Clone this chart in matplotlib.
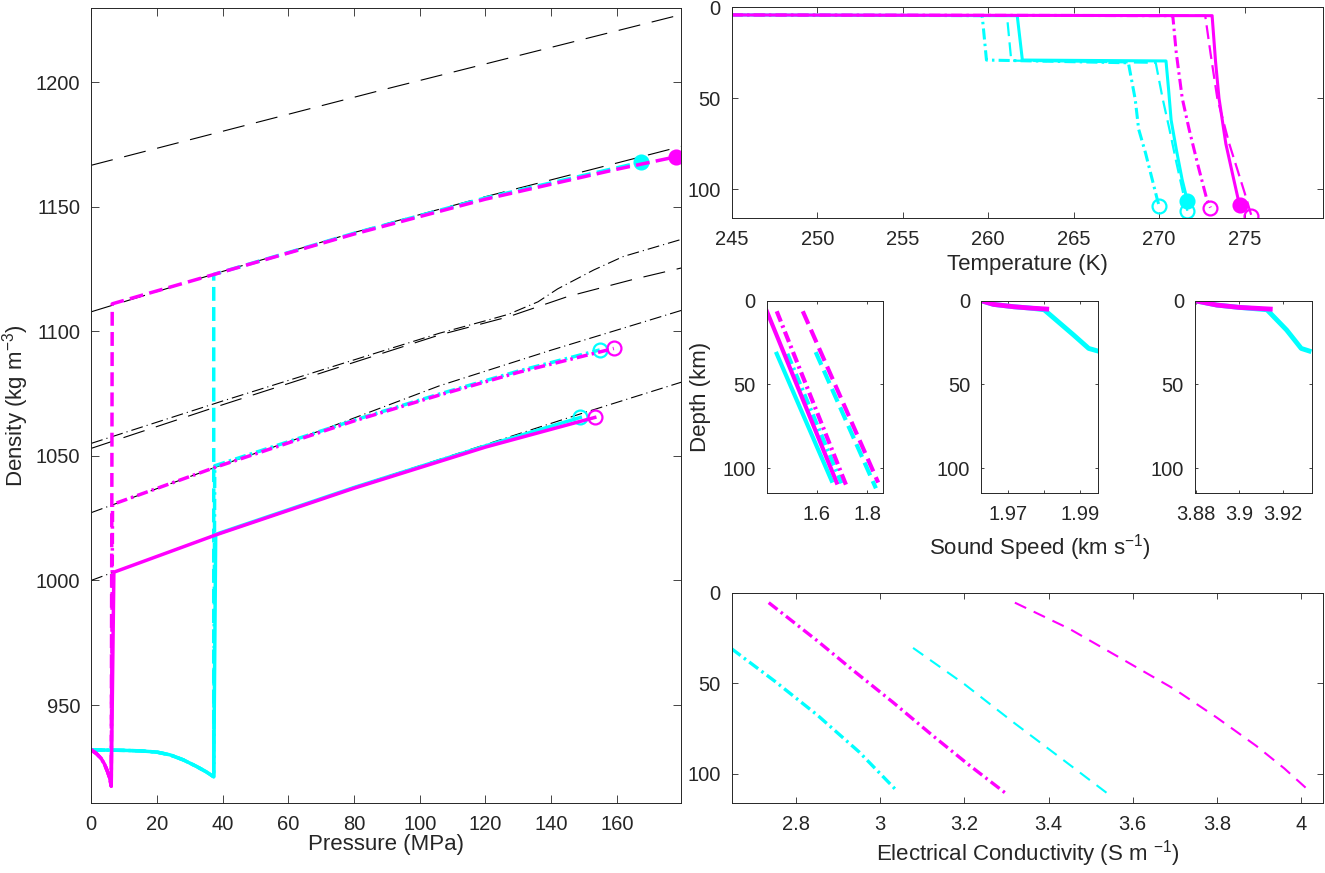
import numpy as np
import matplotlib
matplotlib.use("Agg")
import matplotlib.pyplot as plt

plt.rcParams['font.family'] = ['Liberation Sans', 'DejaVu Sans']
plt.rcParams['mathtext.fontset'] = 'custom'
plt.rcParams['mathtext.rm'] = 'Liberation Sans'
plt.rcParams['mathtext.it'] = 'Liberation Sans:italic'
plt.rcParams['lines.scale_dashes'] = False

# ---------------- density vs pressure ----------------
# black reference curves
blk_a_p = [0, 90, 180]
blk_a_rho = [1166.6, 1197.3, 1227.2]
blk_b_p = [0, 40, 80, 120, 160, 180]
blk_b_rho = [1107.8, 1124.0, 1139.6, 1154.0, 1167.5, 1174.3]
blk_c_p = [0, 40, 80, 106, 127, 145, 165, 180]
blk_c_rho = [1053.0, 1070.5, 1087.5, 1098.5, 1105.8, 1113.9, 1120.8, 1125.5]
blk_d_p = [0, 40, 80, 106, 120, 127, 136, 142, 153, 162, 180]
blk_d_rho = [1055.0, 1072.0, 1088.5, 1099.2, 1104.2, 1106.8, 1111.8, 1117.0, 1124.6, 1130.0, 1137.0]
blk_e_p = [0, 38, 70, 106, 140, 180]
blk_e_rho = [1027.2, 1045.5, 1060.2, 1078.1, 1092.4, 1108.5]
blk_f_p = [0, 38, 80, 120, 150, 180]
blk_f_rho = [1000.0, 1018.5, 1037.5, 1054.5, 1067.3, 1079.7]

# ice shells
ice_m_p = [0, 1.6, 3.0, 4.0, 5.0, 5.6, 6.1]
ice_m_rho = [932.0, 930.5, 928.6, 926.4, 923.2, 920.8, 917.4]
ice_c_p = [0, 10, 15, 20, 24, 28, 32, 35, 37.3]
ice_c_rho = [932.0, 931.8, 931.6, 931.1, 930.0, 928.0, 925.4, 923.2, 921.2]

# oceans
m_solid_p = [6.9, 38, 80, 120, 153.3]
m_solid_rho = [1003.3, 1018.3, 1037.0, 1053.5, 1065.4]
m_dashdot_p = [6.5, 38, 80, 106, 130, 159.1]
m_dashdot_rho = [1030.5, 1045.5, 1064.0, 1074.4, 1083.5, 1093.1]
m_dashed_p = [6.4, 40, 80, 120, 160, 178]
m_dashed_rho = [1111.0, 1123.8, 1139.0, 1153.0, 1165.0, 1170.0]
c_solid_p = [37.9, 80, 120, 148.9]
c_solid_rho = [1018.5, 1037.3, 1054.0, 1065.4]
c_dashdot_p = [37.6, 80, 106, 130, 154.8]
c_dashdot_rho = [1046.0, 1064.3, 1074.8, 1084.0, 1092.5]
c_dashed_p = [37.3, 80, 120, 167.3]
c_dashed_rho = [1122.8, 1139.3, 1153.5, 1167.8]

# ---------------- temperature vs depth ----------------
tm_solid_T = [245, 260, 273.1, 273.1, 273.3, 273.5, 273.9, 274.3, 274.7]
tm_solid_z = [4.2, 4.4, 4.6, 5.0, 30, 50, 75, 92, 108.8]
tm_dashed_T = [245, 260, 272.7, 272.7, 273.0, 273.4, 274.1, 275.0, 275.4]
tm_dashed_z = [4.2, 4.4, 4.6, 5.0, 25, 50, 75, 102, 114.7]
tm_dashdot_T = [245, 260, 270.8, 270.8, 271.0, 271.35, 271.75, 272.3, 272.8, 273.0]
tm_dashdot_z = [4.2, 4.4, 4.6, 5.0, 25, 50, 67, 88, 106, 110.1]
tc_solid_T = [245, 261.7, 262.0, 270.4, 270.55, 270.7, 271.0, 271.35, 271.65]
tc_solid_z = [4.2, 4.6, 29.0, 29.5, 45, 62, 78, 95, 106.4]
tc_dashed_T = [245, 261.1, 261.35, 269.8, 270.2, 270.6, 271.0, 271.4, 271.65]
tc_dashed_z = [4.2, 4.6, 29.3, 30.5, 50, 67, 85, 102, 111.9]
tc_dashdot_T = [245, 259.65, 259.9, 268.2, 268.6, 268.8, 269.2, 269.9, 270.0]
tc_dashdot_z = [4.2, 4.6, 29.0, 30.5, 50.6, 67, 80, 106, 109.2]

# ---------------- sound speeds ----------------
vo_m_solid = [1.403, 1.679]
vo_m_solid_z = [6.3, 108.6]
vo_m_dashdot = [1.442, 1.716]
vo_m_dashdot_z = [6.3, 110.0]
vo_m_dashed = [1.545, 1.843]
vo_m_dashed_z = [6.3, 108.6]
vo_c_solid = [1.442, 1.659]
vo_c_solid_z = [31.7, 107.5]
vo_c_dashdot = [1.484, 1.698]
vo_c_dashdot_z = [31.7, 109.0]
vo_c_dashed = [1.596, 1.834]
vo_c_dashed_z = [30.7, 112.0]

vs_m = [1.9625, 1.9659, 1.9715, 1.9761, 1.9807]
vs_m_z = [0, 2.2, 3.6, 4.4, 5.0]
vs_c = [1.9625, 1.9659, 1.9715, 1.9761, 1.9800, 1.9882, 1.9924, 1.9947]
vs_c_z = [0, 2.2, 3.6, 4.4, 5.4, 20.5, 28.5, 29.9]
vp_m = [3.8797, 3.8897, 3.9000, 3.9142]
vp_m_z = [0, 2.6, 4.0, 5.0]
vp_c = [3.8797, 3.8897, 3.9000, 3.9127, 3.9217, 3.9284, 3.9320]
vp_c_z = [0, 2.6, 4.0, 5.4, 17.5, 28.5, 30.0]

# ---------------- conductivity ----------------
sig_c_dashdot = [2.647, 2.75, 2.85, 2.95, 3.036]
sig_c_dashdot_z = [31.0, 49.0, 67.5, 88.0, 108.6]
sig_m_dashdot = [2.735, 2.85, 2.933, 3.03, 3.125, 3.21, 3.296]
sig_m_dashdot_z = [5.5, 26.5, 42.4, 60.5, 79.0, 95.0, 110.4]
sig_c_dashed = [3.078, 3.2, 3.317, 3.43, 3.548]
sig_c_dashed_z = [30.5, 50.5, 71.7, 91.5, 112.3]
sig_m_dashed = [3.32, 3.45, 3.57, 3.70, 3.80, 3.893, 3.96, 4.022]
sig_m_dashed_z = [5.5, 20.0, 36.0, 53.4, 69.0, 84.5, 97.0, 110.0]

MAG = '#ff00ff'
CYA = '#00ffff'
AXC = '#262626'
BLK_DASH = (0, (16, 8.5))
BLK_DD = (0, (8.6, 2.9, 0.8, 2.9))
COL_DASH = (0, (10, 4.5))
COL_DD = (0, (8, 3, 1.8, 3))
THIN_DASH = (0, (9, 6))

W, H = 1325, 873
fig = plt.figure(figsize=(W / 100, H / 100), dpi=100)


def add_ax(l, t, r, b):
    return fig.add_axes([l / W, 1 - b / H, (r - l) / W, (b - t) / H])


def style(ax, tl):
    ax.tick_params(direction='in', top=True, right=True, length=tl, width=0.6,
                   colors=AXC, labelsize=14.5)
    ax.tick_params(axis='x', pad=8.5)
    ax.tick_params(axis='y', pad=8)
    for s in ax.spines.values():
        s.set_color(AXC)
        s.set_linewidth(0.7)


# ---- left: density ----
ax = add_ax(91.2, 8.3, 681.5, 802.7)
for p, r, ls in [(blk_a_p, blk_a_rho, BLK_DASH), (blk_b_p, blk_b_rho, BLK_DASH),
                 (blk_c_p, blk_c_rho, BLK_DASH), (blk_d_p, blk_d_rho, BLK_DD),
                 (blk_e_p, blk_e_rho, BLK_DD), (blk_f_p, blk_f_rho, BLK_DD)]:
    ax.plot(p, r, color='k', lw=0.8, ls=ls)

for col, ip, ir, series in [
        (CYA, ice_c_p, ice_c_rho, [(c_solid_p, c_solid_rho, '-', 'none'),
                                   (c_dashdot_p, c_dashdot_rho, COL_DD, 'none'),
                                   (c_dashed_p, c_dashed_rho, COL_DASH, 'full')]),
        (MAG, ice_m_p, ice_m_rho, [(m_solid_p, m_solid_rho, '-', 'none'),
                                   (m_dashdot_p, m_dashdot_rho, COL_DD, 'none'),
                                   (m_dashed_p, m_dashed_rho, COL_DASH, 'full')])]:
    for p, r, ls, fill in series:
        ax.plot(ip + p, ir + r, color=col, lw=2.5, ls=ls)
        ax.plot(p[-1], r[-1], 'o', ms=10, mew=1.6, color=col,
                mfc=(col if fill == 'full' else 'none'))

ax.set_xlim(0, 179.7)
ax.set_ylim(910.8, 1229.6)
ax.set_xticks(np.arange(0, 161, 20))
ax.set_yticks([950, 1000, 1050, 1100, 1150, 1200])
style(ax, 5.8)
ax.set_xlabel('Pressure (MPa)', fontsize=16, color=AXC, labelpad=0.5)
ax.set_ylabel(r'Density (kg m$^{-3}$)', fontsize=16, color=AXC, labelpad=3)

# ---- top right: temperature ----
ax = add_ax(731.7, 7.3, 1323.3, 218.3)
for col, series in [
        (CYA, [(tc_solid_T, tc_solid_z, '-', 'full'),
               (tc_dashdot_T, tc_dashdot_z, COL_DD, 'none'),
               (tc_dashed_T, tc_dashed_z, COL_DASH, 'none')]),
        (MAG, [(tm_solid_T, tm_solid_z, '-', 'full'),
               (tm_dashdot_T, tm_dashdot_z, COL_DD, 'none'),
               (tm_dashed_T, tm_dashed_z, COL_DASH, 'none')])]:
    for T, z, ls, fill in series:
        ax.plot(T, z, color=col, lw=(1.6 if ls == COL_DASH else 2.2), ls=ls)
        ax.plot(T[-1], z[-1], 'o', ms=10, mew=1.6, color=col,
                mfc=(col if fill == 'full' else 'none'))
ax.set_xlim(245, 279.6)
ax.set_ylim(116, 0)
ax.set_xticks(np.arange(245, 276, 5))
ax.set_yticks([0, 50, 100])
style(ax, 4.3)
ax.set_xlabel('Temperature (K)', fontsize=16, color=AXC, labelpad=3.5)

# ---- middle: sound speeds ----
ax1 = add_ax(766.7, 300.7, 883.0, 493.3)
for v, z, col, ls in [(vo_c_solid, vo_c_solid_z, CYA, '-'),
                      (vo_c_dashdot, vo_c_dashdot_z, CYA, COL_DD),
                      (vo_c_dashed, vo_c_dashed_z, CYA, COL_DASH),
                      (vo_m_solid, vo_m_solid_z, MAG, '-'),
                      (vo_m_dashdot, vo_m_dashdot_z, MAG, COL_DD),
                      (vo_m_dashed, vo_m_dashed_z, MAG, COL_DASH)]:
    ax1.plot(v, z, color=col, lw=3.0, ls=ls)
ax1.set_xlim(1.4024, 1.862)
ax1.set_xticks([1.6, 1.8])
ax1.set_xticklabels(['1.6', '1.8'])
ax1.set_ylabel('Depth (km)', fontsize=16, color=AXC, labelpad=8)

ax2 = add_ax(981.3, 300.7, 1097.7, 493.3)
ax2.plot(vs_c, vs_c_z, color=CYA, lw=3.5)
ax2.plot(vs_m, vs_m_z, color=MAG, lw=3.5)
ax2.set_xlim(1.9625, 1.9949)
ax2.set_xticks([1.97, 1.98, 1.99])
ax2.set_xticklabels(['1.97', '', '1.99'])
ax2.set_xlabel(r'Sound Speed (km s$^{-1}$)', fontsize=16, color=AXC, labelpad=6)

ax3 = add_ax(1195.0, 300.7, 1311.7, 493.3)
ax3.plot(vp_c, vp_c_z, color=CYA, lw=3.5)
ax3.plot(vp_m, vp_m_z, color=MAG, lw=3.5)
ax3.set_xlim(3.8797, 3.9332)
ax3.set_xticks([3.88, 3.90, 3.92])
ax3.set_xticklabels(['3.88', '3.9', '3.92'])

for a in (ax1, ax2, ax3):
    a.set_ylim(115, 0)
    a.set_yticks([0, 50, 100])
    style(a, 2.5)

# ---- bottom: conductivity ----
ax = add_ax(731.7, 592.7, 1323.3, 802.7)
for s, z, col, ls in [(sig_c_dashdot, sig_c_dashdot_z, CYA, COL_DD),
                      (sig_m_dashdot, sig_m_dashdot_z, MAG, COL_DD),
                      (sig_c_dashed, sig_c_dashed_z, CYA, THIN_DASH),
                      (sig_m_dashed, sig_m_dashed_z, MAG, THIN_DASH)]:
    ax.plot(s, z, color=col, lw=(2.4 if ls == COL_DD else 1.5), ls=ls)
ax.set_xlim(2.647, 4.053)
ax.set_ylim(116, 0)
xt = [2.8, 3.0, 3.2, 3.4, 3.6, 3.8, 4.0]
ax.set_xticks(xt)
ax.set_xticklabels(['%g' % v for v in xt])
ax.set_yticks([0, 50, 100])
style(ax, 4.3)
ax.set_xlabel(r'Electrical Conductivity (S m $^{-1}$)', fontsize=16, color=AXC, labelpad=3)

fig.savefig('out.png', dpi=100)
